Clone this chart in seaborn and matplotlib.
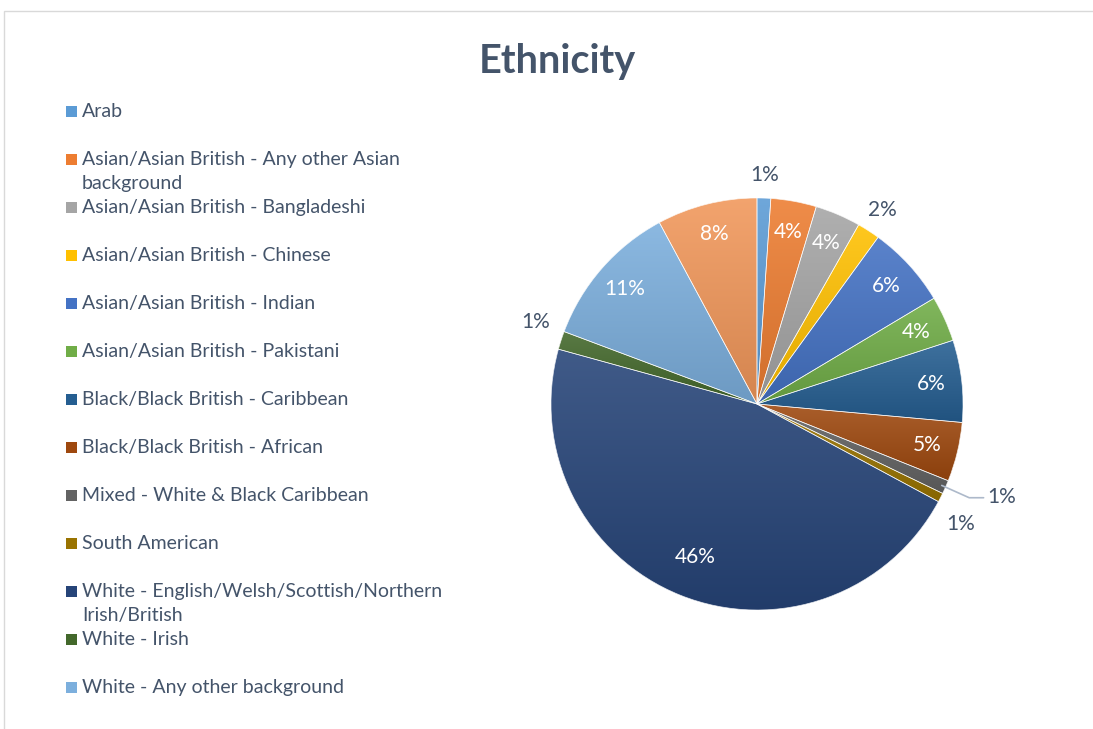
import numpy as np
import matplotlib
matplotlib.use("Agg")
import matplotlib.pyplot as plt
import matplotlib.colors as mcolors
from matplotlib.patches import Rectangle, Wedge
import seaborn as sns

# ---- data -------------------------------------------------------------
categories = [
    "Arab",
    "Asian/Asian British - Any other Asian background",
    "Asian/Asian British - Bangladeshi",
    "Asian/Asian British - Chinese",
    "Asian/Asian British - Indian",
    "Asian/Asian British - Pakistani",
    "Black/Black British - Caribbean",
    "Black/Black British - African",
    "Mixed - White & Black Caribbean",
    "South American",
    "White - English/Welsh/Scottish/Northern Irish/British",
    "White - Irish",
    "White - Any other background",
    "Other ethnic group",
]
counts = [3, 10, 10, 5, 18, 10, 18, 13, 3, 2, 130, 4, 32, 22]

legend_labels = [
    "Arab",
    "Asian/Asian British - Any other Asian\nbackground",
    "Asian/Asian British - Bangladeshi",
    "Asian/Asian British - Chinese",
    "Asian/Asian British - Indian",
    "Asian/Asian British - Pakistani",
    "Black/Black British - Caribbean",
    "Black/Black British - African",
    "Mixed - White & Black Caribbean",
    "South American",
    "White - English/Welsh/Scottish/Northern\nIrish/British",
    "White - Irish",
    "White - Any other background",
]

colors = ["#5B9BD5", "#ED7D31", "#A5A5A5", "#FFC000", "#4472C4", "#70AD47",
          "#255E91", "#9E480E", "#636363", "#997300", "#264478", "#43682B",
          "#7CAFDD", "#F1975A"]

TEXT = "#44546A"
W, H = 1093, 729

sns.set_theme(style="white")
plt.rcParams["font.family"] = ["Lato", "DejaVu Sans"]

fig = plt.figure(figsize=(W / 100, H / 100), dpi=100)
fig.patch.set_facecolor("white")

# chart frame (top and left edges visible)
fig.patches.append(Rectangle((4 / W, -0.1), 1.2, (H - 11) / H + 0.1,
                             transform=fig.transFigure, fill=False,
                             edgecolor="#D9D9D9", linewidth=1.0))

fig.text(557 / W, 1 - 61 / H, "Ethnicity", ha="center", va="center",
         fontsize=28.5, fontweight="bold", color=TEXT)

# ---- pie --------------------------------------------------------------
cx, cy, r = 757, 404, 206
ax = fig.add_axes([(cx - r) / W, (H - cy - r) / H, 2 * r / W, 2 * r / H])
values = np.array(counts, dtype=float)
wedges, _ = ax.pie(values, colors=colors, startangle=90, counterclock=False,
                   wedgeprops=dict(edgecolor="white", linewidth=0.6))

# soft vertical shading on each slice
for w, c in zip(wedges, colors):
    verts = w.get_patch_transform().transform(w.get_path().vertices)
    x0, x1 = verts[:, 0].min(), verts[:, 0].max()
    y0, y1 = verts[:, 1].min(), verts[:, 1].max()
    base = np.array(mcolors.to_rgb(c))
    light = base + (1 - base) * 0.12
    dark = base * 0.88
    t = np.linspace(0, 1, 256)[:, None]
    grad = light[None, :] * (1 - t) + dark[None, :] * t
    im = ax.imshow(grad[:, None, :], extent=[x0, x1, y0, y1], origin="upper",
                   aspect="auto", zorder=w.get_zorder() + 0.1,
                   interpolation="bilinear")
    im.set_clip_path(w)
for w in wedges:
    ax.add_patch(Wedge(w.center, w.r, w.theta1, w.theta2,
                       facecolor="none", edgecolor="white",
                       linewidth=0.5, alpha=0.8, zorder=3))

ax.set_xlim(-1, 1)
ax.set_ylim(-1, 1)
ax.set_aspect("equal")
ax.axis("off")

total = values.sum()
pct = values / total * 100
# radial distance and vertical nudge for labels placed outside the pie
outside = {0: (1.11, 0.0), 3: (1.12, 0.0), 9: (1.11, -0.08), 11: (1.13, 0.05)}
for i, w in enumerate(wedges):
    ang = np.deg2rad((w.theta1 + w.theta2) / 2)
    label = f"{pct[i]:.0f}%"
    if i == 8:
        # leader line for the narrow mixed slice
        ex, ey = np.cos(ang) * 0.98, np.sin(ang) * 0.98
        lx, ly = 1.1, -0.455
        ax.plot([ex, 1.03, lx], [ey, -0.455, ly], color="#ADB9CA",
                linewidth=1.2, clip_on=False, zorder=4)
        ax.text(lx + 0.02, ly + 0.005, label, ha="left", va="center",
                fontsize=15, color=TEXT)
        continue
    if i in outside:
        d, dy = outside[i]
        ax.text(np.cos(ang) * d, np.sin(ang) * d + dy, label, ha="center",
                va="center", fontsize=15, color=TEXT, zorder=5)
    else:
        d = 0.80 if i == 10 else 0.85
        ax.text(np.cos(ang) * d, np.sin(ang) * d, label, ha="center",
                va="center", fontsize=15, color="white", zorder=5)

# ---- legend -----------------------------------------------------------
for k, lab in enumerate(legend_labels):
    y = 111 + 48 * k
    fig.patches.append(Rectangle((66 / W, 1 - (y + 6) / H), 11 / W, 11 / H,
                                 transform=fig.transFigure,
                                 facecolor=colors[k], edgecolor="none"))
    fig.text(82 / W, 1 - (y - 8) / H, lab, ha="left", va="top",
             fontsize=14, color=TEXT, linespacing=1.52)

fig.savefig("out.png", dpi=100)
